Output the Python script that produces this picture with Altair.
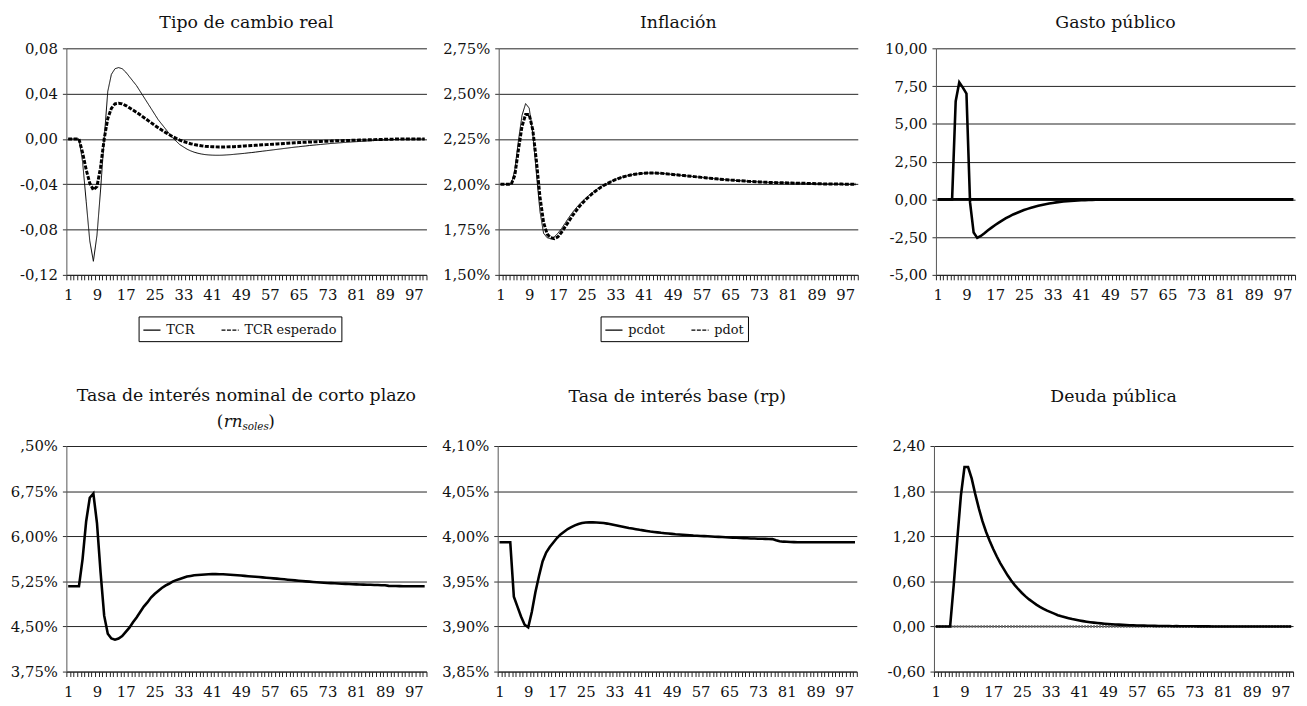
import altair as alt
import pandas as pd

FONT = "DejaVu Serif"

periodos = list(range(1, 101))

tcr = [0, 0, 0, 0, -0.02, -0.055, -0.09, -0.108, -0.085, -0.045,
       0.0, 0.042, 0.057, 0.062, 0.063, 0.062, 0.059, 0.055, 0.051, 0.047,
       0.042, 0.037, 0.032, 0.027, 0.022, 0.017, 0.013, 0.009, 0.005, 0.001,
       -0.002, -0.005, -0.007, -0.009, -0.0105, -0.0117, -0.0126, -0.0133, -0.0138, -0.0141,
       -0.0143, -0.0144, -0.0144, -0.0143, -0.0141, -0.0139, -0.0136, -0.0133, -0.013, -0.0127,
       -0.0123, -0.012, -0.0116, -0.0112, -0.0108, -0.0104, -0.01, -0.0096, -0.0092, -0.0088,
       -0.0084, -0.008, -0.0076, -0.0072, -0.0069, -0.0065, -0.0062, -0.0058, -0.0055, -0.0052,
       -0.0049, -0.0046, -0.0043, -0.004, -0.0038, -0.0035, -0.0033, -0.003, -0.0028, -0.0026,
       -0.0024, -0.0022, -0.002, -0.0018, -0.0016, -0.0014, -0.0012, -0.001, -0.0008, -0.0007,
       -0.0006, -0.0005, -0.0004, -0.0003, -0.0002, -0.0002, -0.0001, -0.0001, 0.0, 0.0]

tcr_esperado = [0, 0, 0, 0, -0.012, -0.027, -0.039, -0.045, -0.042, -0.025,
                0.0, 0.018, 0.027, 0.031, 0.0315, 0.031, 0.0295, 0.0275, 0.0255, 0.0235,
                0.0213, 0.019, 0.0167, 0.0144, 0.0121, 0.0099, 0.0078, 0.0058, 0.0039, 0.0021,
                0.0005, -0.001, -0.0022, -0.0033, -0.0042, -0.0049, -0.0055, -0.006, -0.0064, -0.0067,
                -0.0069, -0.007, -0.0071, -0.0071, -0.007, -0.0069, -0.0068, -0.0066, -0.0064, -0.0062,
                -0.006, -0.0058, -0.0056, -0.0054, -0.0052, -0.005, -0.0048, -0.0046, -0.0044, -0.0042,
                -0.004, -0.0038, -0.0036, -0.0034, -0.0032, -0.003, -0.0029, -0.0027, -0.0026, -0.0024,
                -0.0023, -0.0021, -0.002, -0.0019, -0.0017, -0.0016, -0.0015, -0.0014, -0.0013, -0.0012,
                -0.0011, -0.001, -0.0009, -0.0008, -0.0007, -0.0006, -0.0005, -0.0004, -0.0003, -0.0002,
                -0.0002, -0.0001, 0, 0, 0, 0, 0, 0, 0, 0]

pcdot = [2.0, 2.0, 2.0, 2.0, 2.08, 2.24, 2.38, 2.445, 2.42, 2.28,
         2.06, 1.85, 1.73, 1.705, 1.70, 1.71, 1.73, 1.755, 1.785, 1.815,
         1.843, 1.868, 1.89, 1.91, 1.928, 1.945, 1.96, 1.975, 1.988, 1.998,
         2.008, 2.018, 2.027, 2.034, 2.04, 2.045, 2.05, 2.054, 2.057, 2.059,
         2.061, 2.062, 2.062, 2.062, 2.061, 2.06, 2.058, 2.056, 2.054, 2.052,
         2.05, 2.048, 2.046, 2.044, 2.042, 2.04, 2.038, 2.036, 2.034, 2.032,
         2.03, 2.028, 2.026, 2.025, 2.023, 2.022, 2.02, 2.019, 2.018, 2.016,
         2.015, 2.014, 2.013, 2.012, 2.011, 2.01, 2.01, 2.009, 2.008, 2.008,
         2.007, 2.007, 2.006, 2.006, 2.005, 2.005, 2.004, 2.004, 2.003, 2.003,
         2.002, 2.002, 2.002, 2.001, 2.001, 2.001, 2.0, 2.0, 2.0, 2.0]

pdot = [2.0, 2.0, 2.0, 2.0, 2.05, 2.19, 2.32, 2.385, 2.385, 2.30,
        2.13, 1.93, 1.79, 1.725, 1.705, 1.70, 1.71, 1.735, 1.765, 1.795,
        1.825, 1.852, 1.878, 1.90, 1.92, 1.938, 1.955, 1.97, 1.984, 1.996,
        2.006, 2.016, 2.025, 2.033, 2.04, 2.045, 2.05, 2.054, 2.057, 2.059,
        2.061, 2.062, 2.062, 2.062, 2.061, 2.06, 2.058, 2.056, 2.054, 2.052,
        2.05, 2.048, 2.046, 2.044, 2.042, 2.04, 2.038, 2.036, 2.034, 2.032,
        2.03, 2.028, 2.026, 2.025, 2.023, 2.022, 2.02, 2.019, 2.018, 2.016,
        2.015, 2.014, 2.013, 2.012, 2.011, 2.01, 2.01, 2.009, 2.008, 2.008,
        2.007, 2.007, 2.006, 2.006, 2.005, 2.005, 2.004, 2.004, 2.003, 2.003,
        2.002, 2.002, 2.002, 2.001, 2.001, 2.001, 2.0, 2.0, 2.0, 2.0]

gasto = [0, 0, 0, 0, 0, 6.5, 7.75, 7.4, 7.0, -0.2,
         -2.2, -2.55, -2.42, -2.24, -2.05, -1.87, -1.7, -1.54, -1.39, -1.25,
         -1.12, -1.0, -0.9, -0.8, -0.71, -0.63, -0.56, -0.49, -0.43, -0.37,
         -0.32, -0.28, -0.24, -0.2, -0.17, -0.145, -0.125, -0.105, -0.09, -0.075,
         -0.063, -0.053, -0.044, -0.037, -0.031, -0.026, -0.021, -0.017, -0.014, -0.011,
         -0.009, -0.007, -0.005, -0.004, -0.003, -0.002, -0.001, 0, 0, 0,
         0, 0, 0, 0, 0, 0, 0, 0, 0, 0,
         0, 0, 0, 0, 0, 0, 0, 0, 0, 0,
         0, 0, 0, 0, 0, 0, 0, 0, 0, 0,
         0, 0, 0, 0, 0, 0, 0, 0, 0, 0]

gasto_base = [0.0] * 100

rn_soles = [5.17, 5.17, 5.17, 5.17, 5.62, 6.25, 6.64, 6.71, 6.22, 5.40,
            4.68, 4.38, 4.30, 4.28, 4.30, 4.34, 4.41, 4.48, 4.57, 4.65,
            4.74, 4.83, 4.90, 4.98, 5.04, 5.09, 5.14, 5.18, 5.21, 5.245,
            5.27, 5.29, 5.31, 5.33, 5.34, 5.35, 5.355, 5.36, 5.365, 5.368,
            5.37, 5.37, 5.369, 5.367, 5.364, 5.36, 5.356, 5.351, 5.346, 5.341,
            5.336, 5.331, 5.326, 5.321, 5.316, 5.311, 5.305, 5.3, 5.295, 5.29,
            5.284, 5.278, 5.272, 5.266, 5.26, 5.255, 5.25, 5.245, 5.24, 5.236,
            5.232, 5.228, 5.224, 5.22, 5.217, 5.214, 5.211, 5.208, 5.205, 5.202,
            5.2, 5.198, 5.196, 5.194, 5.192, 5.19, 5.188, 5.186, 5.184, 5.175,
            5.173, 5.172, 5.171, 5.17, 5.17, 5.17, 5.17, 5.17, 5.17, 5.17]

rp = [3.9934, 3.9934, 3.9934, 3.9934, 3.933, 3.922, 3.911, 3.902, 3.899, 3.916,
      3.938, 3.956, 3.972, 3.982, 3.988, 3.993, 3.998, 4.002, 4.005, 4.008,
      4.010, 4.012, 4.0135, 4.0146, 4.0152, 4.0154, 4.0154, 4.0152, 4.0149, 4.0146,
      4.014, 4.0132, 4.0124, 4.0116, 4.0108, 4.01, 4.0092, 4.0085, 4.0078, 4.0071,
      4.0065, 4.0059, 4.0053, 4.0048, 4.0043, 4.0038, 4.0034, 4.003, 4.0026, 4.0022,
      4.0019, 4.0016, 4.0013, 4.001, 4.0007, 4.0005, 4.0003, 4.0001, 3.9999, 3.9997,
      3.9995, 3.9993, 3.9991, 3.9989, 3.9987, 3.9985, 3.9983, 3.9981, 3.9979, 3.9977,
      3.9975, 3.9974, 3.9973, 3.9972, 3.9971, 3.997, 3.9968, 3.9955, 3.9945, 3.994,
      3.9938, 3.9936, 3.9935, 3.9934, 3.9934, 3.9934, 3.9934, 3.9934, 3.9934, 3.9934,
      3.9934, 3.9934, 3.9934, 3.9934, 3.9934, 3.9934, 3.9934, 3.9934, 3.9934, 3.9934]

deuda = [0, 0, 0, 0, 0, 0.55, 1.16, 1.74, 2.12, 2.12,
         1.97, 1.76, 1.57, 1.40, 1.26, 1.14, 1.03, 0.93, 0.84, 0.76,
         0.68, 0.61, 0.55, 0.495, 0.445, 0.40, 0.36, 0.325, 0.29, 0.26,
         0.235, 0.21, 0.19, 0.17, 0.15, 0.135, 0.122, 0.11, 0.098, 0.088,
         0.079, 0.071, 0.064, 0.057, 0.051, 0.046, 0.041, 0.037, 0.033, 0.03,
         0.027, 0.024, 0.021, 0.019, 0.017, 0.015, 0.013, 0.012, 0.011, 0.01,
         0.009, 0.008, 0.007, 0.006, 0.005, 0.005, 0.004, 0.004, 0.003, 0.003,
         0.002, 0.002, 0.002, 0.001, 0.001, 0.001, 0.001, 0, 0, 0,
         0, 0, 0, 0, 0, 0, 0, 0, 0, 0,
         0, 0, 0, 0, 0, 0, 0, 0, 0, 0]

deuda_base = [0.0] * 100

titulos = ["Tipo de cambio real", "Inflación", "Gasto público",
           "Tasa de interés nominal de corto plazo", "Tasa de interés base (rp)",
           "Deuda pública"]

# ---------------------------------------------------------------- helpers
W1, W = 364, 363
H1, H2 = 229, 228
CAT = W1 / 100.0
INK = "#111111"
LABEL_SIZE = 15
TITLE_SIZE = 17.5

x_ticks = [i + 0.5 for i in range(101)]
x_label_expr = ("((datum.value - 0.5) % 8 == 0 && datum.value < 100) ? "
                "format(datum.value + 0.5, 'd') : ''")


def frame(values, name):
    return pd.DataFrame({"periodo": periodos, "valor": values, "serie": name})


def x_enc():
    return alt.X("periodo:Q",
                 scale=alt.Scale(domain=[0.5, 100.5], nice=False, zero=False),
                 axis=alt.Axis(values=x_ticks, labelExpr=x_label_expr,
                               labelOffset=CAT / 2, tickSize=5, labelPadding=8,
                               labelOverlap=False, labelFlush=False, grid=False,
                               labelFont=FONT, labelFontSize=LABEL_SIZE, labelColor=INK,
                               title=None, domainColor="#222", tickColor="#222"))


def num_expr(dec=2, suffix=""):
    return ("(datum.value < -1e-9 ? '-' : '') + replace(format(abs(datum.value), '.%df'), '.', ',') + '%s'"
            % (dec, suffix))


def y_enc(dom, vals, expr, extent):
    return alt.Y("valor:Q",
                 scale=alt.Scale(domain=dom, nice=False, zero=False),
                 axis=alt.Axis(values=vals, labelExpr=expr, tickSize=4,
                               labelPadding=5, grid=True, title=None,
                               labelFont=FONT, labelFontSize=LABEL_SIZE, labelColor=INK,
                               minExtent=extent, maxExtent=extent,
                               gridColor="#222", gridWidth=1,
                               domainColor="#555", tickColor="#333"))


def title(text, offset):
    return alt.TitleParams(text=text, font=FONT, fontSize=TITLE_SIZE, fontWeight="normal",
                           color=INK, anchor="middle", frame="group", offset=offset)


def legend_panel(df, names, dom, vals, expr, extent, width, height, lx, ly, ttl, toff):
    dash_scale = alt.Scale(domain=names, range=[[1, 0], [4, 1.5]])
    leg = alt.Legend(title=None, orient="none", legendX=lx, legendY=ly,
                     direction="horizontal", strokeColor="black", padding=4,
                     fillColor="white", labelFont=FONT, labelFontSize=13,
                     labelColor=INK, symbolType="stroke", symbolSize=300,
                     symbolStrokeWidth=1.3, symbolStrokeColor="black",
                     columnPadding=24, labelOffset=5, cornerRadius=0)
    layers = []
    for nm, sw in zip(names, [1.0, 3.0]):
        sub = df[df["serie"] == nm]
        layers.append(
            alt.Chart(sub).mark_line(color="black", strokeWidth=sw).encode(
                x=x_enc(), y=y_enc(dom, vals, expr, extent),
                strokeDash=alt.StrokeDash("serie:N", scale=dash_scale, legend=leg)))
    return alt.layer(*layers).properties(width=width, height=height,
                                         title=title(ttl, toff))


def simple_panel(main, base, base_style, dom, vals, expr, extent, width, height, ttl, toff, extra=()):
    layers = []
    if base is not None:
        layers.append(alt.Chart(frame(base, "base")).mark_line(**base_style).encode(
            x=x_enc(), y=y_enc(dom, vals, expr, extent)))
    layers.append(alt.Chart(frame(main, "serie")).mark_line(color="black", strokeWidth=2.6).encode(
        x=x_enc(), y=y_enc(dom, vals, expr, extent)))
    layers.extend(extra)
    return alt.layer(*layers).properties(width=width, height=height,
                                         title=title(ttl, toff))


# ---------------------------------------------------------------- row 1
df1 = pd.concat([frame(tcr, "TCR"), frame(tcr_esperado, "TCR esperado")])
p1 = legend_panel(df1, ["TCR", "TCR esperado"], [-0.12, 0.08],
                  [-0.12, -0.08, -0.04, 0.0, 0.04, 0.08], num_expr(),
                  59, W1, H1, 73, 271, titulos[0], 10)

df2 = pd.concat([frame(pcdot, "pcdot"), frame(pdot, "pdot")])
p2 = legend_panel(df2, ["pcdot", "pdot"], [1.5, 2.75],
                  [1.5, 1.75, 2.0, 2.25, 2.5, 2.75], num_expr(2, "%"),
                  59, W, H1, 103, 271, titulos[1], 10)

p3 = simple_panel(gasto, gasto_base, dict(color="black", strokeWidth=2.6),
                  [-5, 10], [-5, -2.5, 0, 2.5, 5, 7.5, 10], num_expr(),
                  65, W, H1, titulos[2], 10)

row1 = alt.hconcat(p1, p2, p3, spacing=9).resolve_scale(
    x="independent", y="independent", strokeDash="independent")

# ---------------------------------------------------------------- row 2
SUB = 17
sub_style = dict(font=FONT, fontSize=SUB, color=INK, align="left", baseline="alphabetic")
one = pd.DataFrame({"k": [0]})
sub_marks = [
    alt.Chart(one).mark_text(**sub_style).encode(x=alt.value(152), y=alt.value(-19), text=alt.value("(")),
    alt.Chart(one).mark_text(fontStyle="italic", **sub_style).encode(x=alt.value(159), y=alt.value(-19), text=alt.value("rn")),
    alt.Chart(one).mark_text(font=FONT, fontSize=10.5, fontStyle="italic", color=INK, align="left",
                             baseline="alphabetic").encode(x=alt.value(178), y=alt.value(-16), text=alt.value("soles")),
    alt.Chart(one).mark_text(**sub_style).encode(x=alt.value(204), y=alt.value(-19), text=alt.value(")")),
]

rn_expr = "datum.value > 7.49 ? ',50%' : " + num_expr(2, "%")
p4 = simple_panel(rn_soles, None, None, [3.75, 7.5],
                  [3.75, 4.5, 5.25, 6.0, 6.75, 7.5], rn_expr,
                  59, W1, H2, titulos[3], 9, extra=sub_marks)

p5 = simple_panel(rp, None, None, [3.85, 4.10],
                  [3.85, 3.90, 3.95, 4.00, 4.05, 4.10], num_expr(2, "%"),
                  59, W, H2, titulos[4], 34)

p6 = simple_panel(deuda, deuda_base, dict(color="#666666", strokeWidth=2.6, strokeDash=[2, 1]),
                  [-0.6, 2.4], [-0.6, 0.0, 0.6, 1.2, 1.8, 2.4], num_expr(),
                  65, W, H2, titulos[5], 34)

row2 = alt.hconcat(p4, p5, p6, spacing=9).resolve_scale(
    x="independent", y="independent")

chart = alt.vconcat(row1, row2, spacing=45).properties(
    padding={"left": 0, "top": 2, "right": 0, "bottom": 0}
).configure(font=FONT).configure_view(stroke=None).configure_axis(
    labelFont=FONT, labelFontSize=LABEL_SIZE, labelColor=INK
)

chart.save("out.html", embed_options={"renderer": "svg", "actions": False})
